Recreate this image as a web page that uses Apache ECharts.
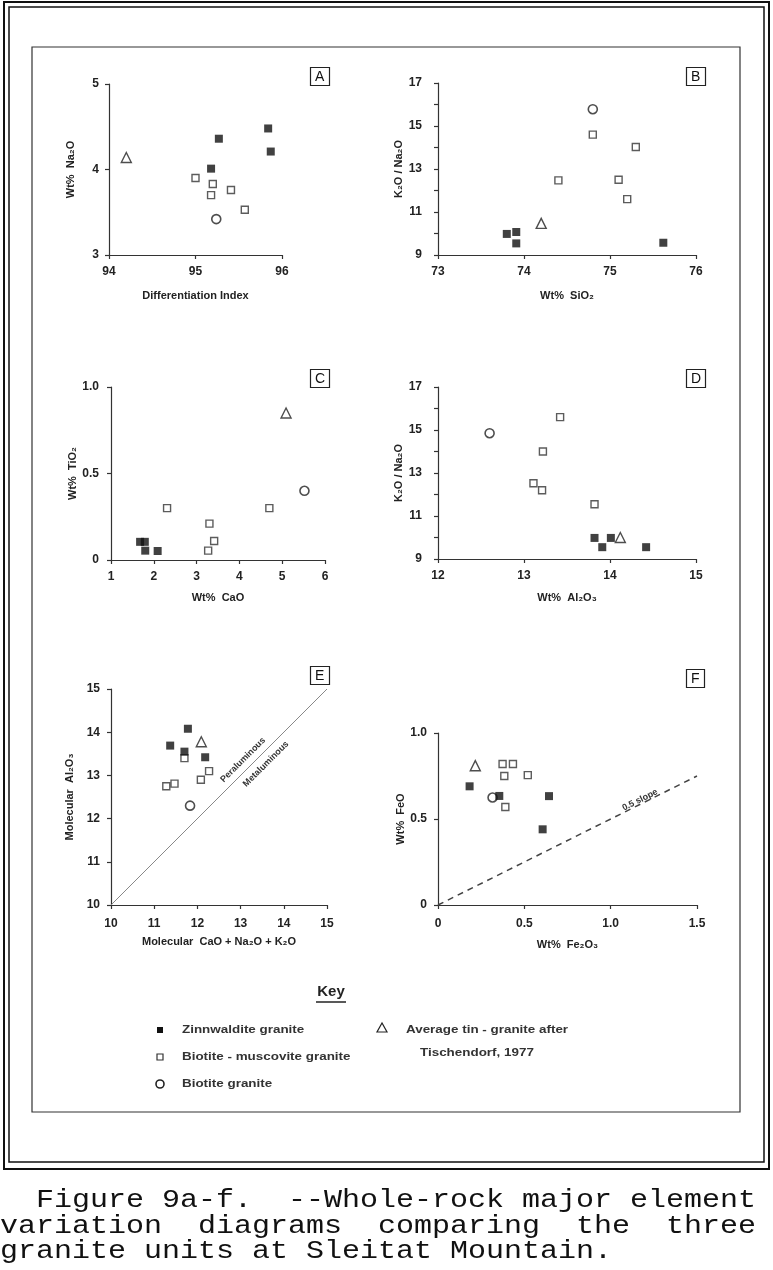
<!DOCTYPE html>
<html><head><meta charset="utf-8">
<script src="https://cdn.jsdelivr.net/npm/echarts@6/dist/echarts.min.js"></script>
<style>html,body{margin:0;padding:0;background:#fff}#c{width:773px;height:1270px}</style>
</head><body><div id="c"></div>
<script>
// ---- Data ----
// Panel A: Differentiation Index vs Wt% Na2O
const zinnA = [[95.27,4.36],[95.84,4.48],[95.87,4.21],[95.18,4.01]];
const bmA   = [[95.0,3.90],[95.2,3.83],[95.18,3.70],[95.41,3.76],[95.57,3.53]];
const btA   = [[95.24,3.42]];
const avA   = [[94.2,4.14]];
// Panel B: Wt% SiO2 vs K2O/Na2O
const zinnB = [[73.8,9.98],[73.91,10.07],[73.91,9.54],[75.62,9.57]];
const bmB   = [[74.8,14.6],[74.4,12.47],[75.1,12.5],[75.3,14.02],[75.2,11.6]];
const btB   = [[74.8,15.78]];
const avB   = [[74.2,10.47]];
// Panel C: Wt% CaO vs Wt% TiO2
const zinnC = [[1.68,0.105],[1.79,0.105],[1.8,0.054],[2.09,0.052]];
const bmC   = [[2.31,0.30],[3.30,0.21],[3.41,0.11],[3.27,0.054],[4.70,0.30]];
const btC   = [[5.52,0.40]];
const avC   = [[5.09,0.85]];
// Panel D: Wt% Al2O3 vs K2O/Na2O
const zinnD = [[13.82,9.98],[13.91,9.55],[14.01,9.98],[14.42,9.55]];
const bmD   = [[13.42,15.6],[13.22,14.0],[13.11,12.52],[13.21,12.2],[13.82,11.55]];
const btD   = [[12.6,14.85]];
const avD   = [[14.12,10.0]];
// Panel E: Molecular CaO+Na2O+K2O vs Molecular Al2O3
const zinnE = [[11.37,13.69],[11.78,14.08],[11.7,13.55],[12.18,13.42]];
const bmE   = [[11.7,13.4],[11.28,12.75],[11.47,12.81],[12.08,12.9],[12.27,13.1]];
const btE   = [[11.83,12.3]];
const avE   = [[12.09,13.78]];
const lineE = [[10,10],[15,15]];
// Panel F: Wt% Fe2O3 vs Wt% FeO
const zinnF = [[0.183,0.69],[0.355,0.634],[0.643,0.633],[0.606,0.44]];
const bmF   = [[0.374,0.82],[0.434,0.82],[0.384,0.75],[0.52,0.755],[0.39,0.57]];
const btF   = [[0.316,0.625]];
const avF   = [[0.216,0.81]];
const lineF = [[0,0],[1.5,0.75]];

const panelLetters = ['A','B','C','D','E','F'];
const xNames = ['Differentiation Index','Wt%  SiO\u2082','Wt%  CaO','Wt%  Al\u2082O\u2083','Molecular  CaO + Na\u2082O + K\u2082O','Wt%  Fe\u2082O\u2083'];
const yNames = ['Wt%  Na\u2082O','K\u2082O / Na\u2082O','Wt%  TiO\u2082','K\u2082O / Na\u2082O','Molecular  Al\u2082O\u2083','Wt%  FeO'];
const keyLabels = ['Zinnwaldite granite','Biotite - muscovite granite','Biotite granite','Average tin - granite after','Tischendorf, 1977'];
const caption = ['  Figure 9a-f.  --Whole-rock major element','variation  diagrams  comparing  the  three','granite units at Sleitat Mountain.'];

// ---- Layout ----
const FONT = 'Liberation Sans, DejaVu Sans, sans-serif';
const grids = [
  {left:109, top:84,  width:173, height:171},
  {left:438, top:83,  width:258, height:172},
  {left:111, top:387, width:214, height:173},
  {left:438, top:387, width:258, height:172},
  {left:111, top:689, width:216, height:216},
  {left:438, top:733, width:259, height:172}
];
const xr = [[94,96,1],[73,76,1],[1,6,1],[12,15,1],[10,15,1],[0,1.5,0.5]];
const yr = [[3,5,1],[9,17,1],[0,1,0.5],[9,17,1],[10,15,1],[0,1,0.5]];
const dec = v => (v===0?'0':(Number.isInteger(v)?v.toFixed(1):String(v)));
const xFmt = [null,null,null,null,null,dec];
const yFmt = [null, v=>(v%2===1?String(v):''), dec, v=>(v%2===1?String(v):''), null, dec];
const xNameGap = [35,35,32,33,31,34];
const yNameGap = [33,32,33,32,36,32];
const xLabMargin = [11,11,11,11,13,13];
const yLabMargin = [10,16,12,16,11,11];

const axisCommon = {
  axisLine:{lineStyle:{color:'#333',width:1.2}},
  axisTick:{inside:false,length:4,lineStyle:{color:'#333',width:1.2}},
  splitLine:{show:false},
  axisLabel:{color:'#222',fontFamily:FONT,fontSize:12,fontWeight:'bold'},
  nameTextStyle:{color:'#222',fontFamily:FONT,fontSize:11,fontWeight:'bold'}
};

const xAxis = [], yAxis = [], series = [], title = [];
grids.forEach((g,i)=>{
  xAxis.push(Object.assign({}, JSON.parse(JSON.stringify(axisCommon)), {
    type:'value', gridIndex:i, min:xr[i][0], max:xr[i][1], interval:xr[i][2],
    name:xNames[i], nameLocation:'middle', nameGap:xNameGap[i]
  }));
  if (xFmt[i]) xAxis[i].axisLabel.formatter = xFmt[i];
  xAxis[i].axisLabel.margin = xLabMargin[i];
  yAxis.push(Object.assign({}, JSON.parse(JSON.stringify(axisCommon)), {
    type:'value', gridIndex:i, min:yr[i][0], max:yr[i][1], interval:yr[i][2],
    name:yNames[i], nameLocation:'middle', nameRotate:90, nameGap:yNameGap[i]
  }));
  if (yFmt[i]) yAxis[i].axisLabel.formatter = yFmt[i];
  yAxis[i].axisLabel.margin = yLabMargin[i];
  title.push({text:panelLetters[i], left:(i%2===0?310:686), top:[67,67,369,369,666,669][i],
    padding:[3,5,2,5], borderColor:'#222', borderWidth:1.2,
    textStyle:{fontFamily:FONT,fontSize:14,fontWeight:'normal',color:'#111'}});
});

const sets = [[zinnA,bmA,btA,avA],[zinnB,bmB,btB,avB],[zinnC,bmC,btC,avC],[zinnD,bmD,btD,avD],[zinnE,bmE,btE,avE],[zinnF,bmF,btF,avF]];
sets.forEach((s,i)=>{
  series.push({type:'scatter',xAxisIndex:i,yAxisIndex:i,data:s[1],symbol:'rect',symbolSize:7,
    itemStyle:{color:'#fff',borderColor:'#333',borderWidth:1.4},z:3});
  series.push({type:'scatter',xAxisIndex:i,yAxisIndex:i,data:s[2],symbol:'circle',symbolSize:9,
    itemStyle:{color:'#fff',borderColor:'#222',borderWidth:1.6},z:3});
  series.push({type:'scatter',xAxisIndex:i,yAxisIndex:i,data:s[3],symbol:'triangle',symbolSize:10,
    itemStyle:{color:'#fff',borderColor:'#222',borderWidth:1.4},z:3});
  series.push({type:'scatter',xAxisIndex:i,yAxisIndex:i,data:s[0],symbol:'rect',symbolSize:8,
    itemStyle:{color:'#111'},z:4});
});
series.push({type:'line',xAxisIndex:4,yAxisIndex:4,data:lineE,symbol:'none',
  lineStyle:{color:'#888',width:1},z:2,silent:true});
series.push({type:'line',xAxisIndex:5,yAxisIndex:5,data:lineF,symbol:'none',
  lineStyle:{color:'#444',width:1.5,type:[6,5]},z:2,silent:true});

const keyFont = 'bold 11px '+FONT;
const capFont = '25px Liberation Mono, monospace';
const graphic = [
  // outer double frame
  {type:'rect',shape:{x:4,y:2,width:765,height:1167},style:{fill:'none',stroke:'#111',lineWidth:2}},
  {type:'rect',shape:{x:9,y:7,width:755,height:1155},style:{fill:'none',stroke:'#111',lineWidth:1.5}},
  // inner frame
  {type:'rect',shape:{x:32,y:47,width:708,height:1065},style:{fill:'none',stroke:'#333',lineWidth:1.2}},
  // E annotations
  {type:'text',x:243,y:760,rotation:Math.PI/4,style:{text:'Peraluminous',font:'bold 9px '+FONT,fill:'#333',align:'center',verticalAlign:'middle'}},
  {type:'text',x:266,y:764,rotation:Math.PI/4,style:{text:'Metaluminous',font:'bold 9px '+FONT,fill:'#333',align:'center',verticalAlign:'middle'}},
  // F annotation
  {type:'text',x:640,y:800,rotation:Math.atan(0.5),style:{text:'0.5 slope',font:'bold 9px '+FONT,fill:'#333',align:'center',verticalAlign:'middle'}},
  // Key
  {type:'text',x:331,y:992,style:{text:'Key',font:'bold 15px '+FONT,fill:'#222',align:'center',verticalAlign:'middle'}},
  {type:'line',shape:{x1:316,y1:1002,x2:346,y2:1002},style:{stroke:'#222',lineWidth:1.5}},
  {type:'rect',shape:{x:157,y:1027,width:6,height:6},style:{fill:'#111'}},
  {type:'rect',shape:{x:157,y:1054,width:6,height:6},style:{fill:'none',stroke:'#333',lineWidth:1.2}},
  {type:'circle',shape:{cx:160,cy:1084,r:4},style:{fill:'none',stroke:'#222',lineWidth:1.6}},
  {type:'polygon',shape:{points:[[382,1023],[377,1032],[387,1032]]},style:{fill:'none',stroke:'#222',lineWidth:1.2}},
  {type:'text',x:182,y:1030,scaleX:1.22,style:{text:keyLabels[0],font:keyFont,fill:'#333',verticalAlign:'middle'}},
  {type:'text',x:182,y:1057,scaleX:1.22,style:{text:keyLabels[1],font:keyFont,fill:'#333',verticalAlign:'middle'}},
  {type:'text',x:182,y:1084,scaleX:1.22,style:{text:keyLabels[2],font:keyFont,fill:'#333',verticalAlign:'middle'}},
  {type:'text',x:406,y:1030,scaleX:1.22,style:{text:keyLabels[3],font:keyFont,fill:'#333',verticalAlign:'middle'}},
  {type:'text',x:420,y:1053,scaleX:1.22,style:{text:keyLabels[4],font:keyFont,fill:'#333',verticalAlign:'middle'}},
  // caption
  {type:'text',x:0,y:1200,scaleX:1.2,style:{text:caption[0],font:capFont,fill:'#111',verticalAlign:'middle'}},
  {type:'text',x:0,y:1226,scaleX:1.2,style:{text:caption[1],font:capFont,fill:'#111',verticalAlign:'middle'}},
  {type:'text',x:0,y:1251,scaleX:1.2,style:{text:caption[2],font:capFont,fill:'#111',verticalAlign:'middle'}}
];

const chart = echarts.init(document.getElementById('c'), null, {renderer:'canvas'});
chart.setOption({animation:false, backgroundColor:'#fff', title, grid:grids, xAxis, yAxis, series, graphic});
</script></body></html>
